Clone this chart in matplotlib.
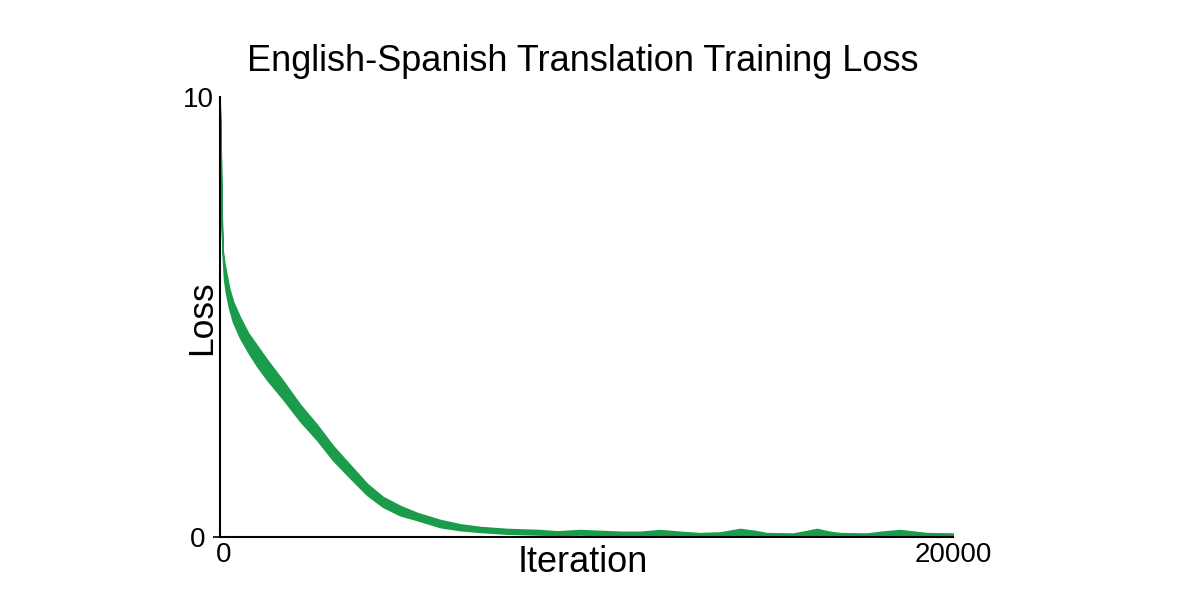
import matplotlib
matplotlib.use("Agg")
import matplotlib.pyplot as plt
from matplotlib.transforms import ScaledTranslation
import numpy as np

plt.rcParams['font.family'] = ['Liberation Sans', 'DejaVu Sans']

# band of the noisy training loss (lower / upper edge)
iterations = [0, 22, 41, 63, 85, 123, 177, 259, 368, 559, 777, 1022, 1294,
              1730, 2194, 2657, 3093, 3556, 4020, 4455, 4918, 5381, 6008,
              6553, 7098, 7834, 8733, 9196, 9823, 10368, 10995, 11458, 12003,
              12548, 13093, 13638, 14183, 14591, 14918, 15627, 15954, 16281,
              16636, 16908, 17643, 18134, 18543, 18952, 19279, 20000]
loss_high = [9.95, 9.3, 8.15, 7.05, 6.5, 6.25, 6.01, 5.65, 5.34, 4.98, 4.63,
             4.34, 4.02, 3.54, 3.00, 2.54, 2.06, 1.63, 1.20, 0.90, 0.70, 0.54,
             0.38, 0.28, 0.22, 0.175, 0.15, 0.12, 0.15, 0.13, 0.11, 0.11, 0.15,
             0.11, 0.08, 0.095, 0.175, 0.13, 0.08, 0.07, 0.12, 0.175, 0.11,
             0.08, 0.07, 0.12, 0.15, 0.11, 0.08, 0.07]
loss_low = [9.85, 9.2, 8.05, 6.95, 6.4, 5.84, 5.54, 5.20, 4.88, 4.52, 4.20,
            3.88, 3.57, 3.13, 2.63, 2.20, 1.74, 1.34, 0.95, 0.68, 0.49, 0.38,
            0.22, 0.15, 0.11, 0.07, 0.05, 0.04, 0.05, 0.04, 0.03, 0.03, 0.04,
            0.03, 0.03, 0.03, 0.04, 0.03, 0.03, 0.02, 0.03, 0.04, 0.03, 0.03,
            0.02, 0.03, 0.04, 0.03, 0.03, 0.02]

x_ticks = [0, 20000]
y_ticks = [0, 10]
green = '#1a9c4b'

fig = plt.figure(figsize=(12, 6), dpi=100)
ax = fig.add_axes([0.183, 0.1055, 0.6115, 0.733])

ax.fill_between(iterations, loss_low, loss_high, color=green,
                edgecolor=green, linewidth=1.2)

ax.set_xlim(0, 20000)
ax.set_ylim(0, 10)
ax.set_xticks(x_ticks)
ax.set_yticks(y_ticks)
ax.set_xticklabels([str(v) for v in x_ticks], fontsize=20)
ax.set_yticklabels([str(v) for v in y_ticks], fontsize=20)
ax.tick_params(axis='x', length=0, pad=4)
ax.tick_params(axis='y', length=5, width=1.2, pad=5)

# no tick mark at the top, and its label sits closer to the axis
ax.yaxis.get_major_ticks()[1].tick1line.set_visible(False)
lab = ax.get_yticklabels()[1]
lab.set_transform(lab.get_transform() + ScaledTranslation(0.08, 0, fig.dpi_scale_trans))
lab0 = ax.get_xticklabels()[0]
lab0.set_transform(lab0.get_transform() + ScaledTranslation(0.04, 0, fig.dpi_scale_trans))

for side in ['top', 'right']:
    ax.spines[side].set_visible(False)
for side in ['left', 'bottom']:
    ax.spines[side].set_linewidth(1.5)

ax.set_xlabel("Iteration", fontsize=26, va='center')
ax.xaxis.set_label_coords(0.495, -0.058)
ax.set_ylabel("Loss", fontsize=25.5, va='center')
ax.yaxis.set_label_coords(-0.025, 0.497)

ax.text(0.495, 1.08, "English-Spanish Translation Training Loss", fontsize=26,
        ha='center', va='center', transform=ax.transAxes)

fig.savefig("out.png", dpi=100)
